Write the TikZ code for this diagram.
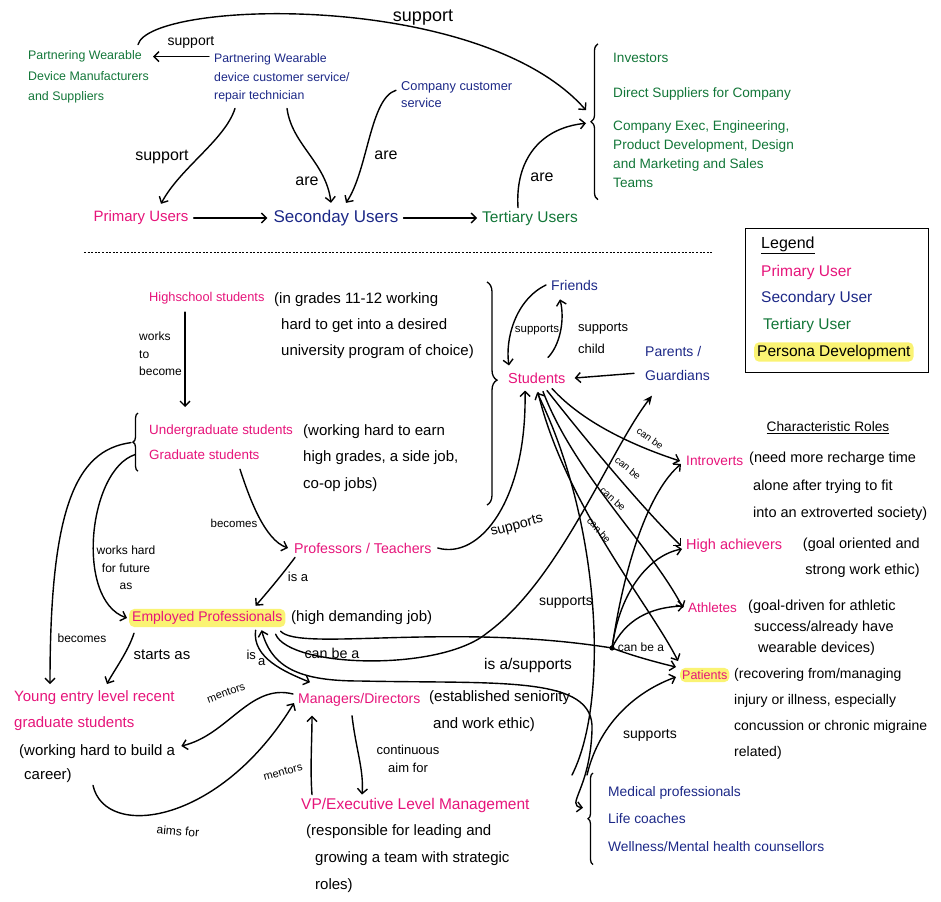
\documentclass[tikz,border=0pt]{standalone}
\usepackage{fontspec}
\setmainfont{Liberation Sans}
\usetikzlibrary{arrows.meta,decorations.pathreplacing,positioning}

\definecolor{primpink}{RGB}{230,20,122}
\definecolor{secnavy}{RGB}{28,40,135}
\definecolor{tergreen}{RGB}{18,118,56}
\definecolor{personay}{RGB}{250,243,115}
\newcommand{\fsz}[2]{\fontsize{#1}{#2}\selectfont}

\begin{document}
\begin{tikzpicture}[x=1pt,y=-1pt,
    pri/.style={text=primpink,inner sep=1pt},
    sec/.style={text=secnavy,inner sep=1pt},
    ter/.style={text=tergreen,inner sep=1pt},
    note/.style={text=black,inner sep=1pt,align=left},
    lbl/.style={text=black,inner sep=1pt},
    persona/.style={fill=personay,rounded corners=5pt,inner xsep=3pt,inner ysep=2.5pt},
    link/.style={line width=1.4pt,line cap=round,-{Straight Barb[length=5pt,width=10pt]}},
    twoway/.style={line width=1.4pt,line cap=round,{Straight Barb[length=5pt,width=10pt]}-{Straight Barb[length=5pt,width=10pt]}},
    plain/.style={line width=1.4pt,line cap=round},
    curly/.style={line width=1.3pt,decorate,decoration={brace,amplitude=#1}},
  ]
\useasboundingbox (0,0) rectangle (941,901);

% ---- top: the three user tiers ----
\node[ter,align=left,anchor=north west,font=\fsz{12.4}{20.5}] (mfr) at (27,49.6) {Partnering Wearable\\Device Manufacturers\\and Suppliers};
\node[sec,align=left,anchor=north west,font=\fsz{12.3}{18.5}] (tech) at (213,52.6) {Partnering Wearable\\device customer service/\\repair technician};
\node[sec,align=left,anchor=north west,font=\fsz{12.8}{17}] (ccs) at (400,80.3) {Company customer\\service};
\node[pri,font=\fsz{15}{18}] (prim) at (141,218) {Primary Users};
\node[sec,font=\fsz{17}{20}] (secu) at (336,218) {Seconday Users};
\node[ter,font=\fsz{15.5}{18}] (tert) at (530,218) {Tertiary Users};
\node[ter,align=left,anchor=north west,font=\fsz{13.6}{19}] (tgroup) at (612,51.8)
  {Investors\\[16pt]Direct Suppliers for Company\\[14pt]Company Exec, Engineering,\\Product Development, Design\\and Marketing and Sales\\Teams};
\draw[curly=7pt] ([xshift=-14pt,yshift=-11pt]tgroup.south west) -- ([xshift=-14pt,yshift=8pt]tgroup.north west);

% labels
\node[lbl,font=\fsz{18}{20}] (topsup) at (423,18) {support};
\node[lbl,font=\fsz{14}{16}] (supmfr) at (191,42) {support};
\node[lbl,font=\fsz{16}{18}] (supprim) at (162,157) {support};
\node[lbl,font=\fsz{16}{18}] (aretech) at (307,181) {are};
\node[lbl,font=\fsz{16}{18}] (areccs) at (386,155) {are};
\node[lbl,font=\fsz{16}{18}] (aretert) at (542,177) {are};

% arrows
\draw[link] ([xshift=-4pt,yshift=-4pt]tech.north west) -- ([xshift=3pt,yshift=-7pt]mfr.north east);
\draw[link] ([xshift=-12pt,yshift=5pt]mfr.north east) .. controls (150,0) and (480,-10) .. ([xshift=-26pt,yshift=10pt]tgroup.west);
\draw[link] ([xshift=22pt,yshift=-5pt]tech.south west) .. controls (225,140) and (180,168) .. ([xshift=20pt,yshift=6pt]prim.north);
\draw[link] ([xshift=74pt,yshift=-5pt]tech.south west) .. controls (292,145) and (326,162) .. ([xshift=-5pt,yshift=6pt]secu.north);
\draw[link] ([xshift=-4pt,yshift=-10pt]ccs.north west) .. controls (370,98) and (368,170) .. ([xshift=10pt,yshift=6pt]secu.north);
\draw[link] ([xshift=-12pt,yshift=2pt]tert.north) .. controls (515,160) and (540,128) .. ([xshift=-26pt,yshift=-3pt]tgroup.west);
\draw[link] ([xshift=4pt]prim.east) -- ([xshift=-5pt]secu.west);
\draw[link] ([xshift=4pt]secu.east) -- ([xshift=-4pt]tert.west);

% ---- separator ----
\draw[line width=0.7pt,dash pattern=on 2pt off 1.6pt] (84,252) -- (713,252);

% ---- legend ----
\node[draw,line width=1.3pt,minimum width=183pt,minimum height=144pt,anchor=north west,inner sep=0pt] (legend) at (745,228) {};
\node[lbl,anchor=west,font=\fsz{16}{18}] (legtitle) at (760,245) {\underline{Legend}};
\node[pri,anchor=west,font=\fsz{15.5}{18}] (legprim) at (760,272) {Primary User};
\node[sec,anchor=west,font=\fsz{15.5}{18}] (legsec) at (760,298) {Secondary User};
\node[ter,anchor=west,font=\fsz{15.5}{18}] (legter) at (762,325) {Tertiary User};
\node[lbl,persona,anchor=west,font=\fsz{15.5}{18}] (legpers) at (754,352) {Persona Development};

% ---- students and their path ----
\node[pri,anchor=west,font=\fsz{12.8}{15}] (hs) at (148,298) {Highschool students};
\node[note,anchor=north west,font=\fsz{15}{26}] (hsnote) at (273,291) {(in grades 11-12 working\\\hspace*{7pt}hard to get into a desired\\\hspace*{7pt}university program of choice)};
\node[lbl,align=left,anchor=north west,font=\fsz{12}{17.5}] (wtb) at (138,331) {works\\to\\become};
\node[pri,align=left,anchor=north west,font=\fsz{13.4}{25}] (ugrad) at (148,424) {Undergraduate students\\Graduate students};
\node[note,anchor=north west,font=\fsz{15}{26.5}] (ugnote) at (302,423) {(working hard to earn\\high grades, a side job,\\co-op jobs)};
\node[pri,anchor=west,font=\fsz{14.2}{17}] (prof) at (293,548) {Professors / Teachers};
\node[pri,persona,anchor=west,font=\fsz{14}{17}] (emp) at (129,618) {Employed Professionals};
\node[note,anchor=west,font=\fsz{15}{18}] (empnote) at (290,618) {(high demanding job)};
\node[pri,align=left,anchor=north west,font=\fsz{15}{26}] (young) at (13,689) {Young entry level recent\\graduate students};
\node[note,anchor=north west,font=\fsz{15}{24}] (youngnote) at (18,743) {(working hard to build a\\\hspace*{5pt}career)};
\node[pri,anchor=west,font=\fsz{14}{17}] (mgr) at (297,700) {Managers/Directors};
\node[note,anchor=north west,font=\fsz{15}{27}] (mgrnote) at (428,689) {(established seniority\\\hspace*{4pt}and work ethic)};
\node[pri,anchor=west,font=\fsz{15.5}{18}] (vp) at (300,805) {VP/Executive Level Management};
\node[note,anchor=north west,font=\fsz{15}{27}] (vpnote) at (305,823) {(responsible for leading and\\\hspace*{9pt}growing a team with strategic\\\hspace*{9pt}roles)};

% supporters of students
\node[pri,anchor=west,font=\fsz{14.5}{17}] (students) at (507,378) {Students};
\node[sec,anchor=west,font=\fsz{14}{17}] (friends) at (550,285) {Friends};
\node[sec,align=left,anchor=north west,font=\fsz{14}{24}] (parents) at (644,345) {Parents /\\Guardians};
\node[sec,align=left,anchor=north west,font=\fsz{13.8}{27.5}] (medgroup) at (607,785) {Medical professionals\\Life coaches\\Wellness/Mental health counsellors};

% characteristic roles
\node[note,font=\fsz{13.7}{16}] (roles) at (828,428) {\underline{Characteristic Roles}};
\node[pri,anchor=west,font=\fsz{13.7}{16}] (introv) at (685,461) {Introverts};
\node[note,anchor=north west,font=\fsz{14.5}{27.5}] (intnote) at (748,451) {(need more recharge time\\\hspace*{4pt}alone after trying to fit\\\hspace*{4pt}into an extroverted society)};
\node[pri,anchor=west,font=\fsz{14.5}{17}] (achv) at (685,546) {High achievers};
\node[note,align=right,anchor=north east,font=\fsz{14.5}{26}] (achnote) at (921,537) {(goal oriented and\\strong work ethic)};
\node[pri,anchor=west,font=\fsz{13.5}{16}] (ath) at (687,608) {Athletes};
\node[note,anchor=north west,font=\fsz{14.5}{21}] (athnote) at (747,599) {(goal-driven for athletic\\\hspace*{6pt}success/already have\\\hspace*{10pt}wearable devices)};
\node[pri,persona,inner xsep=2pt,anchor=west,font=\fsz{12.5}{15}] (pat) at (680,675) {Patients};
\node[note,anchor=north west,font=\fsz{14}{26}] (patnote) at (733,667) {(recovering from/managing\\injury or illness, especially\\concussion or chronic migraine\\related)};

% edge labels
\node[lbl,font=\fsz{11.5}{14}] (becprof) at (234,523) {becomes};
\node[lbl,align=center,anchor=north,font=\fsz{12}{17.5}] (worksas) at (126,545) {works hard\\for future\\as};
\node[lbl,font=\fsz{12}{14}] (becyoung) at (82,638) {becomes};
\node[lbl,font=\fsz{13}{15}] (isaprof) at (298,577) {is a};
\node[lbl,rotate=15,font=\fsz{14}{16}] (supprof) at (517,526) {supports};
\node[lbl,font=\fsz{15}{17}] (starts) at (162,655) {starts as};
\node[lbl,font=\fsz{13}{15}] (isamgr) at (256,658) {is\,\raisebox{-6pt}{a}};
\node[lbl,font=\fsz{14.3}{16}] (canbeemp) at (332,653) {can be a};
\node[lbl,font=\fsz{15.5}{18}] (isasup) at (528,665) {is a/supports};
\node[lbl,font=\fsz{14}{16}] (supmed) at (566,602) {supports};
\node[lbl,font=\fsz{12}{14}] (canbehub) at (641,647) {can be a};
\node[lbl,font=\fsz{14}{16}] (suppat) at (650,735) {supports};
\node[lbl,rotate=20,font=\fsz{11}{13}] (mentup) at (226,693) {mentors};
\node[lbl,rotate=15,font=\fsz{11}{13}] (mentvp) at (283,772) {mentors};
\node[lbl,align=center,anchor=north,font=\fsz{13}{18}] (contaim) at (408,744) {continuous\\aim for};
\node[lbl,rotate=-5,font=\fsz{12}{14}] (aimsfor) at (178,831) {aims for};
\node[lbl,font=\fsz{11.5}{13}] (supfr) at (537,330) {supports};
\node[lbl,align=left,anchor=north west,font=\fsz{13}{22}] (supchild) at (577,322) {supports\\child};
\node[lbl,rotate=-36,font=\fsz{10}{12}] (cbintro) at (650,438) {can be};
\node[lbl,rotate=-40,font=\fsz{10}{12}] (cbachv) at (628,468) {can be};
\node[lbl,rotate=-42,font=\fsz{10}{12}] (cbath) at (613,499) {can be};
\node[lbl,rotate=-48,font=\fsz{10}{12}] (cbpat) at (599,530) {can be};

% school path
\draw[link] ([xshift=37pt,yshift=-7pt]hs.south west) -- ([xshift=37pt,yshift=17pt]ugrad.north west);
\draw[curly=5pt] ([xshift=-10pt,yshift=-10pt]ugrad.south west) -- ([xshift=-10pt,yshift=11pt]ugrad.north west);
\draw[link] ([xshift=-17pt]ugrad.west) .. controls (75,450) and (50,510) .. ([xshift=37pt,yshift=5pt]young.north west);
\draw[link] ([xshift=-13pt,yshift=-12pt]ugrad.west) .. controls (88,470) and (75,600) .. ([xshift=-2pt]emp.west);
\draw[link] ([xshift=92pt,yshift=-8pt]ugrad.south west) .. controls (250,500) and (265,540) .. ([xshift=-5pt]prof.west);
\draw[link] ([xshift=2pt,yshift=-3pt]prof.south west) .. controls (282,575) and (265,595) .. ([xshift=-30pt,yshift=3pt]emp.north east);
\draw[link] ([xshift=5pt]prof.east) .. controls (480,560) and (527,500) .. ([xshift=18pt,yshift=-6pt]students.south west);
\draw[curly=10pt,decoration={aspect=0.44}] (487,282) -- (487,505);

% career path
\draw[link] ([xshift=5pt,yshift=-6pt]emp.south west) .. controls (128,652) and (113,672) .. ([xshift=94pt,yshift=5pt]young.north west);
\draw[link] ([xshift=-30pt,yshift=-3pt]emp.south east) .. controls (252,658) and (285,672) .. ([xshift=13pt,yshift=10pt]mgr.north west);
\draw[link] ([xshift=-4pt,yshift=6pt]mgr.west) .. controls (250,683) and (228,735) .. ([xshift=5pt,yshift=-3pt]youngnote.north east);
\draw[link] ([xshift=75pt,yshift=-2pt]youngnote.south west) .. controls (105,840) and (220,825) .. ([xshift=-3pt,yshift=-3pt]mgr.west);
\draw[link] ([xshift=12pt,yshift=2pt]vp.north west) .. controls (310,770) and (312,740) .. ([xshift=15pt,yshift=-8pt]mgr.south west);
\draw[link] ([xshift=55pt,yshift=-8pt]mgr.south west) .. controls (356,750) and (364,770) .. ([xshift=62pt,yshift=2pt]vp.north west);

% friends and parents
\draw[link] ([xshift=-4pt]friends.west) .. controls (515,300) and (505,340) .. ([xshift=2pt,yshift=6pt]students.north west);
\draw[link] ([xshift=41pt,yshift=14pt]students.north west) .. controls (560,345) and (565,320) .. ([xshift=10pt,yshift=-8pt]friends.south west);
\draw[link] ([xshift=-10pt,yshift=-10pt]parents.west) -- ([xshift=8pt]students.east);

% students can be
\draw[link] ([xshift=45pt,yshift=-4pt]students.south west) .. controls (585,425) and (640,448) .. ([xshift=-5pt]introv.west);
\draw[link] ([xshift=40pt,yshift=-6pt]students.south west) .. controls (590,445) and (640,505) .. ([xshift=-4pt]achv.west);
\draw[link] ([xshift=36pt,yshift=-7pt]students.south west) .. controls (575,475) and (650,545) .. ([xshift=-4pt]ath.west);
\draw[link] ([xshift=31pt,yshift=-8pt]students.south west) .. controls (565,505) and (650,605) .. ([xshift=-2pt,yshift=14pt]pat.west);

% employed professionals: roles, parents, medical
\coordinate (hub) at (612,648);
\draw[plain] ([xshift=-5pt,yshift=-4pt]emp.south east) .. controls (300,652) and (450,622) .. (hub);
\draw[link,-{Stealth[length=9pt,width=8pt]}] ([xshift=-10pt,yshift=-7pt]emp.south east) .. controls (290,668) and (440,672) .. (487,633) .. controls (560,580) and (610,450) .. ([xshift=8pt,yshift=-14pt]parents.south west);
\draw[twoway] ([xshift=-24pt,yshift=-3pt]emp.south east) .. controls (272,668) and (300,681) .. (360,681) .. controls (500,684) and (595,675) .. (592,730) .. controls (590,790) and (565,805) .. ([xshift=-24pt,yshift=11pt]medgroup.west);
\fill (hub) circle (2.6pt);
\draw[link] (hub) .. controls (625,560) and (650,490) .. ([xshift=-4pt,yshift=-3pt]introv.west);
\draw[link] (hub) .. controls (620,590) and (650,555) .. ([xshift=-3pt,yshift=-3pt]achv.west);
\draw[link] (hub) .. controls (625,620) and (650,607) .. ([xshift=-3pt,yshift=2pt]ath.west);
\draw[link] (hub) .. controls (630,655) and (655,662) .. ([xshift=-4pt,yshift=8pt]pat.west);

% medical supporters
\draw[curly=5pt] ([xshift=-14pt,yshift=-12pt]medgroup.south west) -- ([xshift=-14pt,yshift=12pt]medgroup.north west);
\draw[link] ([xshift=-35pt,yshift=10pt]medgroup.north west) .. controls (610,700) and (600,520) .. ([xshift=30pt,yshift=-8pt]students.south west);
\draw[link] ([xshift=-20pt,yshift=10pt]medgroup.north west) .. controls (600,720) and (640,690) .. ([xshift=-4pt,yshift=-2pt]pat.west);
\end{tikzpicture}
\end{document}
